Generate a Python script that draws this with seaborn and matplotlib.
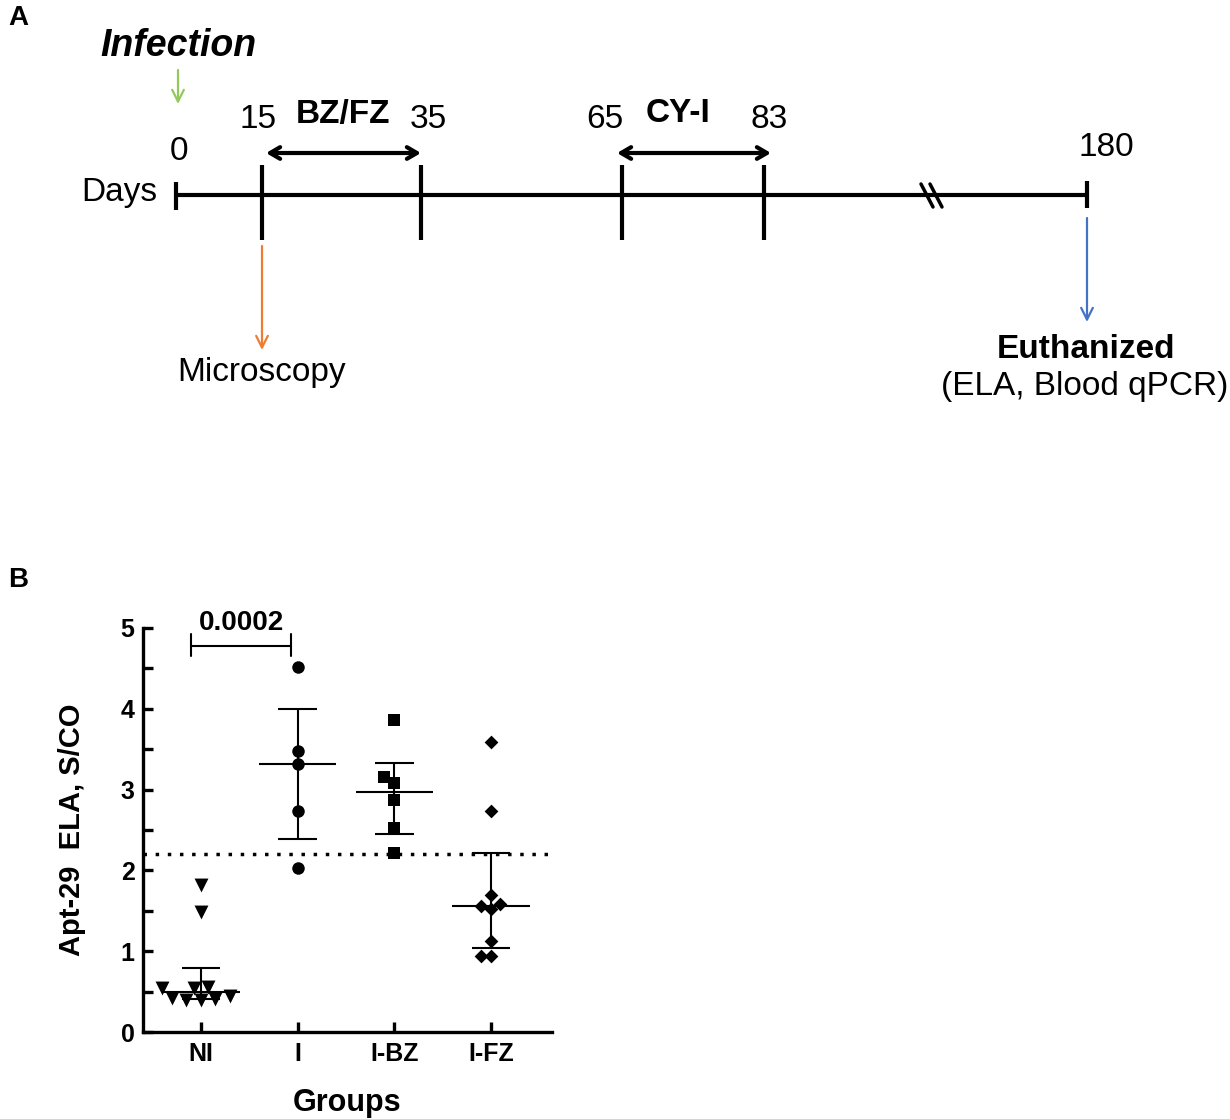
import numpy as np
import pandas as pd
import matplotlib
matplotlib.use("Agg")
import matplotlib.pyplot as plt
from matplotlib.ticker import MultipleLocator
import seaborn as sns

# ---------------- data ----------------
groups = ["NI", "I", "I-BZ", "I-FZ"]
ni_vals = [0.42, 0.44, 0.54, 0.39, 0.56, 0.41, 0.54, 0.39, 1.82, 1.48]
i_vals = [4.52, 3.48, 3.32, 2.74, 2.03]
ibz_vals = [3.86, 3.16, 3.08, 2.87, 2.53, 2.22]
ifz_vals = [3.59, 2.74, 1.70, 1.58, 1.56, 1.52, 1.13, 0.94, 0.94]
cutoff = 2.2
p_label = "0.0002"

day_labels = ["0", "15", "35", "65", "83", "180"]
treatments = ["BZ/FZ", "CY-I"]

# ---------------- style ----------------
sns.set_theme(style="ticks")
plt.rcParams["font.family"] = ["Liberation Sans", "DejaVu Sans"]
for k in ("text.color", "axes.labelcolor", "xtick.color", "ytick.color", "axes.edgecolor"):
    plt.rcParams[k] = "black"

fig = plt.figure(figsize=(12.3, 11.19), dpi=100)

# ================= Panel A : timeline schematic =================
HA = 460
axA = fig.add_axes([0, 1 - HA / 1119, 1, HA / 1119])
axA.set_xlim(0, 1230)
axA.set_ylim(HA, 0)
axA.axis("off")

line_y = 195
day_x = [176, 262, 421, 622, 764, 1087]
tick_top = [182, 165, 165, 165, 165, 181]
tick_bot = [210, 240, 240, 240, 240, 208]
lab_xy = [(179, 152), (258, 120), (428, 120), (605, 120), (769, 120), (1106, 147)]
fsA = 24

axA.plot([day_x[0], day_x[-1]], [line_y, line_y], color="black", lw=3, solid_capstyle="butt")
for x, t, b in zip(day_x, tick_top, tick_bot):
    axA.plot([x, x], [t, b], color="black", lw=3, solid_capstyle="butt")
for lab, (x, y) in zip(day_labels, lab_xy):
    axA.text(x, y, lab, ha="center", va="center", fontsize=fsA)

axA.text(157, line_y - 2, "Days", ha="right", va="center", fontsize=fsA)

# break marks
for dx in (0, 9):
    axA.plot([921 + dx, 933 + dx], [184, 207], color="black", lw=2.5)

# treatment double arrows
for (x0, x1, tx), lab in zip([(266, 421, 343), (617, 771, 678)], treatments):
    axA.annotate("", xy=(x1, 153), xytext=(x0, 153),
                 arrowprops=dict(arrowstyle="<->,head_length=0.6,head_width=0.35",
                                 lw=3, color="black", shrinkA=0, shrinkB=0))
    axA.text(tx, 114, lab, ha="center", va="center", fontsize=fsA, fontweight="bold")

# event arrows
axA.text(178, 46, "Infection", ha="center", va="center", fontsize=27,
         fontweight="bold", fontstyle="italic")
axA.annotate("", xy=(178, 104), xytext=(178, 70),
             arrowprops=dict(arrowstyle="->,head_length=0.7,head_width=0.35",
                             lw=1.6, color="#92C95A", shrinkA=0, shrinkB=0))
axA.annotate("", xy=(262, 350), xytext=(262, 246),
             arrowprops=dict(arrowstyle="->,head_length=0.7,head_width=0.35",
                             lw=1.6, color="#ED7D31", shrinkA=0, shrinkB=0))
axA.text(262, 373, "Microscopy", ha="center", va="center", fontsize=fsA)
axA.annotate("", xy=(1087, 322), xytext=(1087, 218),
             arrowprops=dict(arrowstyle="->,head_length=0.7,head_width=0.35",
                             lw=1.6, color="#4472C4", shrinkA=0, shrinkB=0))
axA.text(1086, 350, "Euthanized", ha="center", va="center", fontsize=fsA, fontweight="bold")
axA.text(1085, 387, "(ELA, Blood qPCR)", ha="center", va="center", fontsize=fsA)

fig.text(8 / 1230, 1 - 18 / 1119, "A", fontsize=20, fontweight="bold", ha="left", va="center")
fig.text(8 / 1230, 1 - 580 / 1119, "B", fontsize=20, fontweight="bold", ha="left", va="center")

# ================= Panel B : scatter with median / IQR =================
axB = fig.add_axes([143 / 1230, 1 - 1032 / 1119, (552 - 143) / 1230, (1032 - 628) / 1119])

all_vals = [ni_vals, i_vals, ibz_vals, ifz_vals]
markers = ["v", "o", "s", "D"]
msizes = [10, 9, 8.5, 7]

for g, vals, m, s in zip(groups, all_vals, markers, msizes):
    df = pd.DataFrame({"group": [g] * len(vals), "value": vals})
    sns.swarmplot(data=df, x="group", y="value", order=groups, marker=m, size=s,
                  color="black", linewidth=0, ax=axB, zorder=3)

for i, vals in enumerate(all_vals):
    q1, med, q3 = np.percentile(vals, [25, 50, 75], method="weibull")
    axB.hlines(med, i - 0.4, i + 0.4, color="black", lw=1.5, zorder=4)
    axB.vlines(i, q1, q3, color="black", lw=1.5, zorder=4)
    axB.hlines([q1, q3], i - 0.2, i + 0.2, color="black", lw=1.5, zorder=4)

axB.axhline(cutoff, color="black", lw=2.5, ls=(0, (1, 2.5)), zorder=2)

# significance bracket
bx0, bx1 = -0.1, 0.93
axB.plot([bx0, bx1], [4.78, 4.78], color="black", lw=1.5, clip_on=False)
axB.plot([bx0, bx0], [4.65, 4.92], color="black", lw=1.5, clip_on=False)
axB.plot([bx1, bx1], [4.65, 4.92], color="black", lw=1.5, clip_on=False)
axB.text((bx0 + bx1) / 2, 5.06, p_label, ha="center", va="center", fontsize=20,
         fontweight="bold", clip_on=False)

axB.set_xlim(-0.6, 3.63)
axB.set_ylim(0, 5)
axB.yaxis.set_major_locator(MultipleLocator(1))
axB.yaxis.set_minor_locator(MultipleLocator(0.5))
sns.despine(ax=axB)
for sp in ("left", "bottom"):
    axB.spines[sp].set_linewidth(2.4)
axB.tick_params(axis="y", which="both", direction="in", length=7, width=2.4, pad=6)
axB.tick_params(axis="y", which="major", labelsize=18)
axB.tick_params(axis="x", direction="in", length=7, width=2.4, labelsize=18, pad=7)
for lbl in axB.get_yticklabels() + axB.get_xticklabels():
    lbl.set_fontweight("bold")

axB.set_xlabel("Groups", fontsize=22, fontweight="bold", labelpad=16)
axB.set_ylabel("Apt-29  ELA, S/CO", fontsize=21, fontweight="bold", labelpad=25)

fig.savefig("out.png", dpi=100)
